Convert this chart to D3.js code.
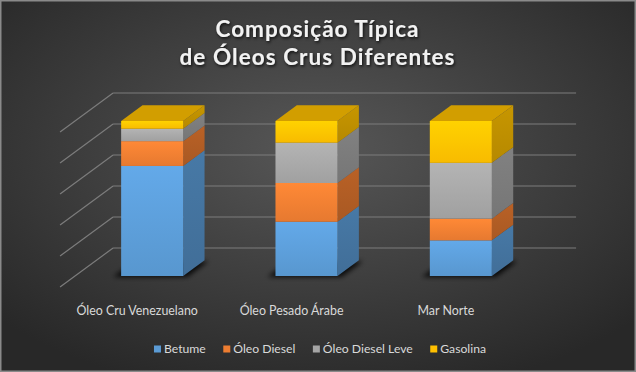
<!DOCTYPE html>
<html>
<head>
<meta charset="utf-8">
<script src="https://cdn.jsdelivr.net/npm/d3@7.9.0/dist/d3.min.js"></script>
<style>
  html, body { margin: 0; padding: 0; background: #2a2a2a; }
  svg { display: block; font-family: Lato, 'Open Sans', sans-serif; }
</style>
</head>
<body>
<svg id="chart" width="636" height="372"></svg>
<script>
const titleLines = ['Composição Típica', 'de Óleos Crus Diferentes'];
const categories = ['Óleo Cru Venezuelano', 'Óleo Pesado Árabe', 'Mar Norte'];
const seriesNames = ['Betume', 'Óleo Diesel', 'Óleo Diesel Leve', 'Gasolina'];
const betume = [71, 35, 23];
const oleoDiesel = [16, 25, 14];
const oleoDieselLeve = [8, 26, 36];
const gasolina = [5, 14, 27];
const seriesColors = ['#5b9bd5', '#ed7d31', '#a5a5a5', '#ffc000'];
const gridTicks = [0, 20, 40, 60, 80, 100];

const width = 636, height = 372;
const svg = d3.select('#chart');
const defs = svg.append('defs');

// background
const bg = defs.append('radialGradient').attr('id', 'bg')
  .attr('cx', '50%').attr('cy', '40%').attr('r', '68%');
bg.append('stop').attr('offset', '0%').attr('stop-color', '#575757');
bg.append('stop').attr('offset', '100%').attr('stop-color', '#282828');
svg.append('rect').attr('width', width).attr('height', height).attr('fill', 'url(#bg)');
svg.append('rect').attr('x', 0.75).attr('y', 0.75)
  .attr('width', width - 1.5).attr('height', height - 1.5)
  .attr('fill', 'none').attr('stroke', '#8a8a8a').attr('stroke-width', 1.5);

// filters
const shadowF = defs.append('filter').attr('id', 'title-shadow')
  .attr('x', '-10%').attr('y', '-30%').attr('width', '120%').attr('height', '160%');
shadowF.append('feDropShadow').attr('dx', 1).attr('dy', 1.5)
  .attr('stdDeviation', 1.5).attr('flood-color', '#000').attr('flood-opacity', 0.8);
const blurF = defs.append('filter').attr('id', 'blur')
  .attr('x', '-30%').attr('y', '-100%').attr('width', '160%').attr('height', '300%');
blurF.append('feGaussianBlur').attr('stdDeviation', 2.5);

// data
const rows = categories.map((c, i) => ({
  cat: c,
  'Betume': betume[i],
  'Óleo Diesel': oleoDiesel[i],
  'Óleo Diesel Leve': oleoDieselLeve[i],
  'Gasolina': gasolina[i]
}));
const stacked = d3.stack().keys(seriesNames)(rows);

// scales (front plane of bars)
const x = d3.scaleBand().domain(categories).range([75, 538])
  .paddingInner(0.598).paddingOuter(0.299);
const y = d3.scaleLinear().domain([0, 100]).range([276, 121]);
const color = d3.scaleOrdinal().domain(seriesNames).range(seriesColors);

// oblique depth projection
const kx = 1.36;
const P = (px, py, z) => [px + z * kx, py - z];
const wallZ = 28, barZ = 15.7, floorZ = -11;
const poly = pts => pts.map(p => p.join(',')).join(' ');

// gridlines on back wall + side wall diagonals
const [x0, x1] = x.range();
const grid = svg.append('g').attr('stroke', '#7c7c7c').attr('stroke-width', 1.2).attr('fill', 'none');
gridTicks.forEach(t => {
  const a = P(x0, y(t), wallZ), b = P(x1, y(t), wallZ), c = P(x0, y(t), floorZ);
  grid.append('line').attr('x1', a[0]).attr('y1', a[1]).attr('x2', b[0]).attr('y2', b[1]);
  grid.append('line').attr('x1', a[0]).attr('y1', a[1]).attr('x2', c[0]).attr('y2', c[1]);
});

// gradients per series
seriesNames.forEach((s, i) => {
  const base = d3.color(color(s));
  const gF = defs.append('linearGradient').attr('id', 'front' + i)
    .attr('x1', 0).attr('y1', 0).attr('x2', 0).attr('y2', 1);
  gF.append('stop').attr('offset', '0%').attr('stop-color', base.brighter(0.25));
  gF.append('stop').attr('offset', '100%').attr('stop-color', base.darker(0.08));
  const gS = defs.append('linearGradient').attr('id', 'side' + i)
    .attr('x1', 0).attr('y1', 0).attr('x2', 0).attr('y2', 1);
  gS.append('stop').attr('offset', '0%').attr('stop-color', base.darker(0.7));
  gS.append('stop').attr('offset', '100%').attr('stop-color', base.darker(0.95));
});

// shadows
const shadows = svg.append('g').attr('filter', 'url(#blur)');
categories.forEach(c => {
  const l = x(c) - 8, r = x(c) + x.bandwidth() + 4, b = y(0) + 1;
  shadows.append('polygon')
    .attr('points', poly([[l, b], [r, b], P(r, b, barZ), P(l, b, barZ)]))
    .attr('fill', '#000').attr('opacity', 0.85);
});

// bars
const bars = svg.append('g');
categories.forEach((c, ci) => {
  const l = x(c), r = x(c) + x.bandwidth();
  stacked.forEach((layer, si) => {
    const d = layer[ci];
    const yt = y(d[1]), yb = y(d[0]);
    bars.append('polygon')
      .attr('points', poly([[r, yb], [r, yt], P(r, yt, barZ), P(r, yb, barZ)]))
      .attr('fill', `url(#side${si})`);
    bars.append('rect')
      .attr('x', l).attr('y', yt).attr('width', r - l).attr('height', yb - yt)
      .attr('fill', `url(#front${si})`);
  });
  const topLayer = stacked.length - 1;
  const yt = y(stacked[topLayer][ci][1]);
  bars.append('polygon')
    .attr('points', poly([[l, yt], [r, yt], P(r, yt, barZ), P(l, yt, barZ)]))
    .attr('fill', d3.color(seriesColors[topLayer]).darker(0.55));
});

// category labels on floor front edge
svg.append('g').selectAll('text').data(categories).join('text')
  .attr('x', d => P(x(d) + x.bandwidth() / 2, y(0), floorZ)[0])
  .attr('y', 315)
  .attr('text-anchor', 'middle')
  .attr('font-size', 12.4)
  .attr('fill', '#d9d9d9')
  .text(d => d);

// title
svg.append('g').attr('filter', 'url(#title-shadow)').selectAll('text').data(titleLines).join('text')
  .attr('x', 317)
  .attr('y', (d, i) => 37 + i * 28)
  .attr('text-anchor', 'middle')
  .attr('font-size', 22.5)
  .attr('font-weight', 'bold')
  .attr('fill', '#f2f2f2')
  .attr('textLength', (d, i) => [203, 275][i])
  .attr('lengthAdjust', 'spacing')
  .text(d => d);

// legend
const legend = svg.append('g');
const items = legend.selectAll('g').data(seriesNames).join('g');
items.append('rect').attr('width', 7).attr('height', 7).attr('y', -7.5)
  .attr('fill', d => color(d));
items.append('text').attr('x', 10).attr('font-size', 12.2).attr('fill', '#d9d9d9').text(d => d);
let cursor = 0;
items.each(function () {
  const g = d3.select(this);
  g.attr('transform', `translate(${cursor},353)`);
  cursor += 10 + g.select('text').node().getComputedTextLength() + 17.5;
});
const total = cursor - 17.5;
legend.attr('transform', `translate(${320 - total / 2},0)`);
</script>
</body>
</html>
